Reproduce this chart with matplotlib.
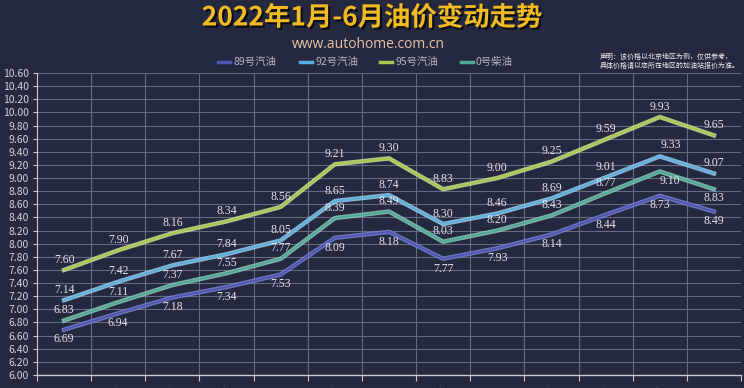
import matplotlib
matplotlib.use("Agg")
import matplotlib.pyplot as plt
import matplotlib.patheffects as pe
from matplotlib.lines import Line2D
import numpy as np

plt.rcParams['font.family'] = ['Noto Sans CJK SC', 'DejaVu Sans']

dates = ["1月1日", "1月18日", "1月30日", "2月17日", "3月4日", "3月18日", "4月1日",
         "4月15日", "4月29日", "5月17日", "5月31日", "6月15日", "6月29日"]
series_names = ["89号汽油", "92号汽油", "95号汽油", "0号柴油"]
p89 = [6.69, 6.94, 7.18, 7.34, 7.53, 8.09, 8.18, 7.77, 7.93, 8.14, 8.44, 8.73, 8.49]
p92 = [7.14, 7.42, 7.67, 7.84, 8.05, 8.65, 8.74, 8.30, 8.46, 8.69, 9.01, 9.33, 9.07]
p95 = [7.60, 7.90, 8.16, 8.34, 8.56, 9.21, 9.30, 8.83, 9.00, 9.25, 9.59, 9.93, 9.65]
p0 = [6.83, 7.11, 7.37, 7.55, 7.77, 8.39, 8.49, 8.03, 8.20, 8.43, 8.77, 9.10, 8.83]

colors = ["#4e56b4", "#58b0e2", "#a6c94c", "#4daa94"]
edge_colors = ["#8088d8", "#a4d8f2", "#dcec9c", "#94d4c0"]
# default label offset (points) per series, plus a few moved labels
label_offsets = [(0, -7), (0, 7.5), (0, 7.5), (0, 7.5)]
special = {(3, 11): (7, -6.5), (3, 12): (0, -6), (1, 11): (8, 8)}

bg = "#242940"
fig = plt.figure(figsize=(7.44, 3.88), dpi=100, facecolor=bg)
ax = fig.add_axes([37/744, 1-375/388, (741-37)/744, (375-73)/388])
ax.set_facecolor(bg)

n = len(dates)
x = np.arange(n) + 0.5
all_series = [p89, p92, p95, p0]
for si, (vals, c, ec, off) in enumerate(zip(all_series, colors, edge_colors, label_offsets)):
    ax.plot(x, vals, color=c, lw=1.3, zorder=3, solid_joinstyle='round',
            path_effects=[pe.Stroke(linewidth=3.2, foreground=ec, alpha=0.8), pe.Normal()])
    for i, (xi, v) in enumerate(zip(x, vals)):
        o = special.get((si, i), off)
        ax.annotate(f"{v:.2f}", (xi, v), xytext=o, textcoords='offset points',
                    ha='center', va='center', fontsize=8.5, color='#e4e4ec',
                    family=['Liberation Serif', 'DejaVu Serif'], zorder=5)

ax.set_xlim(0, n)
ax.set_ylim(6.0, 10.6)
yt = np.round(np.arange(6.0, 10.61, 0.2), 2)
ax.set_yticks(yt)
ax.set_yticklabels([f"{v:.2f}" for v in yt])
ax.set_xticks(np.arange(0, n + 1))
ax.set_xticklabels([])
ax.set_xticks(x, minor=True)
ax.set_xticklabels(dates, minor=True, rotation=45, ha='right', rotation_mode='anchor')
ax.tick_params(axis='x', which='minor', length=0, pad=8, labelsize=8, labelcolor='#d0d0d8')
ax.tick_params(axis='x', which='major', length=4, color='#c8c8d0', width=0.8)
ax.tick_params(axis='y', length=3, color='#c8c8d0', labelsize=7.5, labelcolor='#d4d4dc', pad=3)
ax.grid(True, which='major', color='#666a82', lw=0.8, zorder=0)
for s in ['top', 'right']:
    ax.spines[s].set_visible(False)
ax.spines['left'].set_color('#c8c8d0')
ax.spines['bottom'].set_color('#c8c8d0')
ax.spines['left'].set_linewidth(0.8)
ax.spines['bottom'].set_linewidth(1.0)

# Title
fig.text(372/744, 1-18/388, "2022年1月-6月油价变动走势", ha='center', va='center',
         fontsize=19, fontweight='bold', color='#f2bb22',
         path_effects=[pe.withSimplePatchShadow(offset=(1.5, -1.5), shadow_rgbFace='black', alpha=0.7)])
fig.text(368/744, 1-44/388, "www.autohome.com.cn", ha='center', va='center',
         fontsize=10, color='#e8c3a6', family=['Open Sans', 'DejaVu Sans'])

# Legend
leg_x = [218, 300, 380, 461]
for lx, name, c in zip(leg_x, series_names, colors):
    fig.add_artist(Line2D([lx/744, (lx+12)/744], [1-62/388, 1-62/388], color=c, lw=2.5,
                          transform=fig.transFigure))
    fig.text((lx+15)/744, 1-62/388, name, ha='left', va='center', fontsize=7.5, color='#b4b4c4')

# Disclaimer
fig.text(600/744, 1-57/388, "声明：该价格以北京地区为例，仅供参考，", ha='left', va='center',
         fontsize=5, color='#f0f0f0')
fig.text(600/744, 1-66/388, "具体价格请以您所在地区的加油站报价为准。", ha='left', va='center',
         fontsize=5, color='#f0f0f0')

fig.savefig("out.png", dpi=100, facecolor=bg)
